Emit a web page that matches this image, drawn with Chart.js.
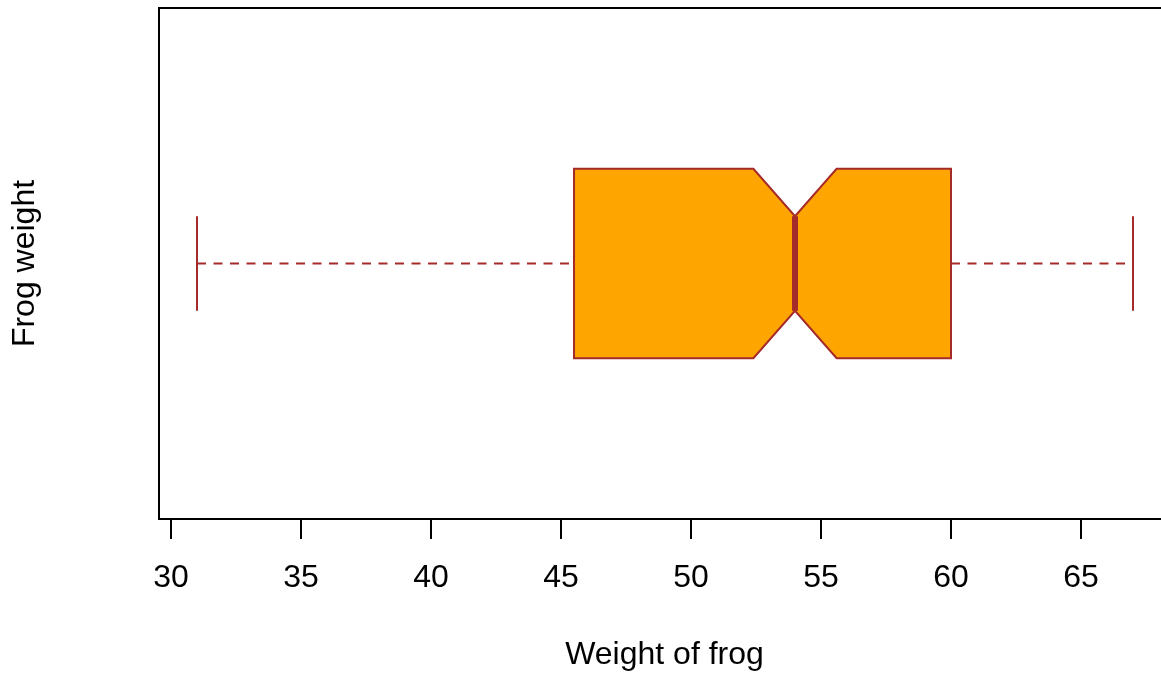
<!DOCTYPE html>
<html>
<head>
<meta charset="utf-8">
<title>Frog weight</title>
<script src="https://cdn.jsdelivr.net/npm/chart.js@4.4.1/dist/chart.umd.min.js"></script>
<style>
  html, body { margin: 0; padding: 0; background: #fff; overflow: hidden; }
  /* plot region runs a few px past the right edge, like the original */
  #wrap { width: 1161px; height: 673px; overflow: hidden; }
</style>
</head>
<body>
<div id="wrap"><canvas id="boxChart" width="1170" height="673"></canvas></div>
<script>
// boxplot stats
const categories = ['Frog weight'];
const whiskerLow = [31];
const q1 = [45.5];
const medians = [54];
const q3 = [60];
const whiskerHigh = [67];
const notchLow = [52.4];
const notchHigh = [55.6];

const xTicks = [30, 35, 40, 45, 50, 55, 60, 65];

const FONT = "'Liberation Sans', Arial, Helvetica, sans-serif";
const BOX_FILL = '#FFA500';
const BOX_LINE = '#A52A2A';

// draws the notched box using the chart's scales
const boxPlugin = {
    id: 'notchedBox',
    afterDatasetsDraw(chart) {
        const ctx = chart.ctx;
        const xs = chart.scales.x;
        const ys = chart.scales.y;
        const X = v => xs.getPixelForValue(v);
        const Y = v => ys.getPixelForValue(v);

        categories.forEach((cat, i) => {
            const c = i + 1;
            const half = 0.2;     // box half height
            const notchHalf = 0.1;
            const capHalf = 0.1;

            ctx.save();

            // whiskers (dashed)
            ctx.strokeStyle = BOX_LINE;
            ctx.lineWidth = 2;
            ctx.setLineDash([9, 7.5]);
            ctx.beginPath();
            ctx.moveTo(X(whiskerLow[i]), Y(c));
            ctx.lineTo(X(q1[i]), Y(c));
            ctx.moveTo(X(q3[i]), Y(c));
            ctx.lineTo(X(whiskerHigh[i]), Y(c));
            ctx.stroke();
            ctx.setLineDash([]);

            // staples
            ctx.beginPath();
            ctx.moveTo(X(whiskerLow[i]), Y(c - capHalf));
            ctx.lineTo(X(whiskerLow[i]), Y(c + capHalf));
            ctx.moveTo(X(whiskerHigh[i]), Y(c - capHalf));
            ctx.lineTo(X(whiskerHigh[i]), Y(c + capHalf));
            ctx.stroke();

            // notched box
            ctx.beginPath();
            ctx.moveTo(X(q1[i]), Y(c - half));
            ctx.lineTo(X(notchLow[i]), Y(c - half));
            ctx.lineTo(X(medians[i]), Y(c - notchHalf));
            ctx.lineTo(X(notchHigh[i]), Y(c - half));
            ctx.lineTo(X(q3[i]), Y(c - half));
            ctx.lineTo(X(q3[i]), Y(c + half));
            ctx.lineTo(X(notchHigh[i]), Y(c + half));
            ctx.lineTo(X(medians[i]), Y(c + notchHalf));
            ctx.lineTo(X(notchLow[i]), Y(c + half));
            ctx.lineTo(X(q1[i]), Y(c + half));
            ctx.closePath();
            ctx.fillStyle = BOX_FILL;
            ctx.fill();
            ctx.lineWidth = 2;
            ctx.lineJoin = 'miter';
            ctx.stroke();

            // median
            ctx.lineWidth = 6;
            ctx.lineCap = 'butt';
            ctx.beginPath();
            ctx.moveTo(X(medians[i]), Y(c - notchHalf));
            ctx.lineTo(X(medians[i]), Y(c + notchHalf));
            ctx.stroke();

            ctx.restore();
        });

        // plot frame
        const a = chart.chartArea;
        ctx.save();
        ctx.strokeStyle = '#000';
        ctx.lineWidth = 2;
        ctx.strokeRect(a.left, a.top, a.right - a.left - 1, a.bottom - a.top);
        ctx.restore();
    }
};

const ctx = document.getElementById('boxChart').getContext('2d');
const chart = new Chart(ctx, {
    type: 'scatter',
    data: {
        datasets: [{
            label: categories[0],
            data: [],
            showLine: false
        }]
    },
    options: {
        responsive: false,
        devicePixelRatio: 1,
        animation: false,
        layout: { padding: { top: 8, right: 0, left: 0, bottom: 0 } },
        plugins: {
            legend: { display: false },
            tooltip: { enabled: false }
        },
        scales: {
            x: {
                type: 'linear',
                min: 29.538,
                max: 68.423,
                afterBuildTicks: scale => {
                    scale.ticks = xTicks.map(v => ({ value: v }));
                },
                afterFit: scale => { scale.height = 154; },
                border: { display: false },
                grid: {
                    display: true,
                    drawOnChartArea: false,
                    drawTicks: true,
                    tickLength: 20,
                    tickWidth: 2,
                    tickColor: '#000',
                    color: '#000',
                    lineWidth: 2
                },
                ticks: {
                    color: '#000',
                    font: { family: FONT, size: 32 },
                    padding: 20,
                    maxRotation: 0,
                    autoSkip: false,
                    callback: v => String(v)
                },
                title: {
                    display: true,
                    text: 'Weight of frog',
                    color: '#000',
                    font: { family: FONT, size: 32, lineHeight: 1.2 },
                    padding: { top: 0, bottom: -1 }
                }
            },
            y: {
                type: 'linear',
                min: 0.46,
                max: 1.54,
                afterFit: scale => { scale.width = 159; },
                border: { display: false },
                grid: { display: false, drawTicks: false },
                ticks: { display: false },
                title: {
                    display: true,
                    text: categories[0],
                    color: '#000',
                    font: { family: FONT, size: 32, lineHeight: 1.2 },
                    padding: { top: 6, bottom: 0 }
                }
            }
        }
    },
    plugins: [boxPlugin]
});
</script>
</body>
</html>
